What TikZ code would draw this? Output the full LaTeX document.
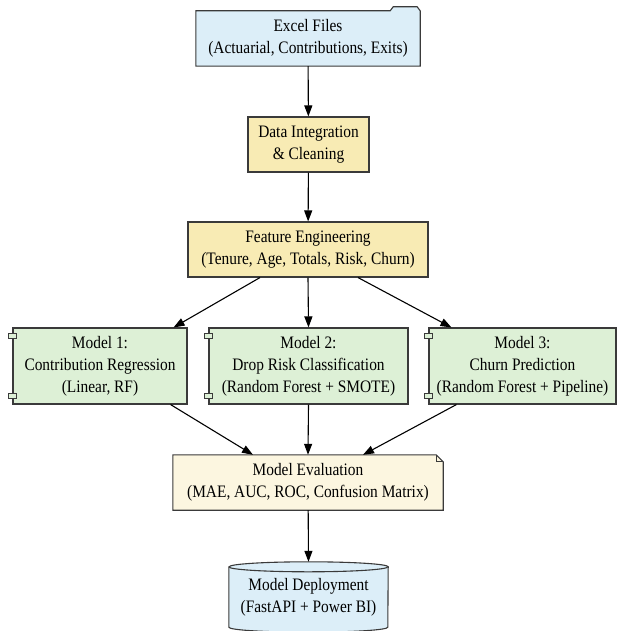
\documentclass[tikz,border=0pt]{standalone}
\usepackage{fontspec}
\setmainfont{Liberation Serif}[FakeStretch=0.88]
\usetikzlibrary{arrows.meta,backgrounds}
\definecolor{fileblue}{HTML}{DCEEF8}
\definecolor{stageyellow}{HTML}{F8EBB4}
\definecolor{modelgreen}{HTML}{DDF0D6}
\definecolor{evalcream}{HTML}{FCF6E0}
\definecolor{rimgray}{HTML}{3A3A3A}
\tikzset{
  txt/.style={align=center, inner sep=0pt, font=\fontsize{17.5}{22}\selectfont},
  rim/.style={draw=rimgray, line width=1.1pt},
  stage/.style={txt, rim, fill=stageyellow, minimum height=55pt},
  model/.style={txt, rim, fill=modelgreen, minimum height=76pt},
  arr/.style={-{Triangle[length=11pt,width=8pt]}, line width=1.1pt},
}

\begin{document}
\begin{tikzpicture}[x=1pt,y=-1pt]
\useasboundingbox (0,0) rectangle (618,631);
\node[txt,minimum width=224pt,minimum height=55pt] (excel) at (308,38.5) {Excel Files\\(Actuarial, Contributions, Exits)};
\node[stage,minimum width=121pt] (integ) at (308.5,144.5) {Data Integration\\\& Cleaning};
\node[stage,minimum width=240pt] (feat) at (308,249.5) {Feature Engineering\\(Tenure, Age, Totals, Risk, Churn)};
\node[model,minimum width=174pt] (m1) at (100,366) {Model 1:\\Contribution Regression\\(Linear, RF)};
\node[model,minimum width=199pt] (m2) at (308.5,366) {Model 2:\\Drop Risk Classification\\(Random Forest + SMOTE)};
\node[model,minimum width=187pt] (m3) at (522.5,366) {Model 3:\\Churn Prediction\\(Random Forest + Pipeline)};
\node[txt,minimum width=270pt,minimum height=55pt] (eval) at (308,482.5) {Model Evaluation\\(MAE, AUC, ROC, Confusion Matrix)};
\node[txt,minimum width=159pt,minimum height=70pt] (deploy) at (308.5,597) {Model Deployment\\(FastAPI + Power BI)};

\begin{scope}[on background layer]
\draw[rim,fill=fileblue] (excel.south west) -- (excel.north west) -- ([xshift=-30pt]excel.north east)
  -- ([xshift=-27pt,yshift=4pt]excel.north east) -- ([xshift=-3pt,yshift=4pt]excel.north east)
  -- (excel.north east) -- (excel.south east) -- cycle;
\draw[rim,fill=evalcream] (eval.south west) -- (eval.north west) -- ([xshift=-7pt]eval.north east)
  -- ([yshift=-7pt]eval.north east) -- (eval.south east) -- cycle;
\draw[rim,fill=fileblue] ([yshift=-5pt]deploy.north west) -- ([yshift=5pt]deploy.south west)
  arc[start angle=180,end angle=360,x radius=79.5pt,y radius=5pt]
  -- ([yshift=-5pt]deploy.north east)
  arc[start angle=0,end angle=180,x radius=79.5pt,y radius=5pt] -- cycle;
\end{scope}
\draw[rim] ([xshift=-7pt]eval.north east) -- ([xshift=-7pt,yshift=-7pt]eval.north east) -- ([yshift=-7pt]eval.north east);
\draw[rim] ([yshift=-5pt]deploy.north west) arc[start angle=180,end angle=360,x radius=79.5pt,y radius=5pt];
\foreach \m in {m1,m2,m3} {
  \draw[rim,fill=modelgreen] ([xshift=-4pt,yshift=-6pt]\m.north west) rectangle ([xshift=4pt,yshift=-11pt]\m.north west);
  \draw[rim,fill=modelgreen] ([xshift=-4pt,yshift=6pt]\m.south west) rectangle ([xshift=4pt,yshift=11pt]\m.south west);
}

\draw[arr] (excel) -- (integ);
\draw[arr] (integ) -- (feat);
\draw[arr] ([xshift=-48pt]feat.south) -- ([xshift=-14pt]m1.north east);
\draw[arr] (feat.south) -- (m2.north);
\draw[arr] ([xshift=50pt]feat.south) -- ([xshift=23pt]m3.north west);
\draw[arr] ([xshift=-17pt]m1.south east) -- ([xshift=-55pt]eval.north);
\draw[arr] (m2.south) -- (eval.north);
\draw[arr] ([xshift=28pt]m3.south west) -- ([xshift=55pt]eval.north);
\draw[arr] (eval) -- (deploy.north);
\end{tikzpicture}
\end{document}
